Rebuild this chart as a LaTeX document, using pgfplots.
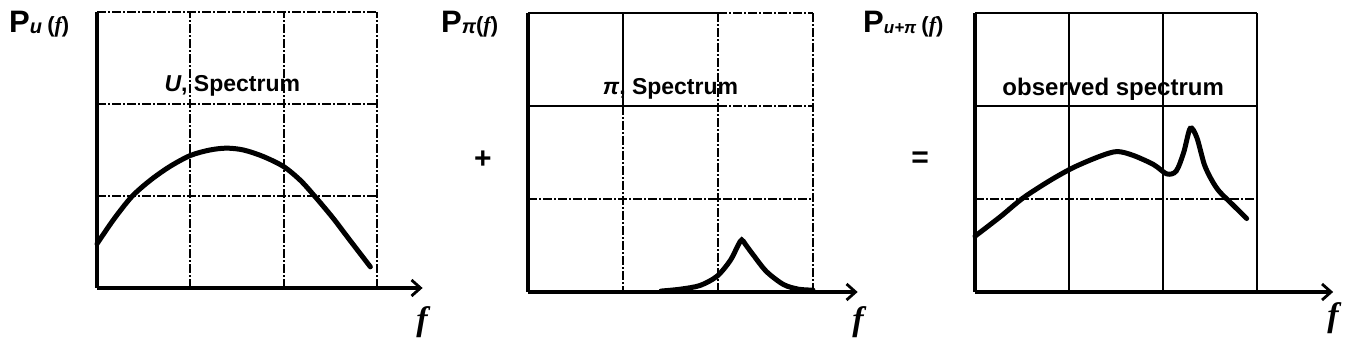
\documentclass[border=0pt]{standalone}
\usepackage{pgfplots}
\pgfplotsset{compat=1.18}
\usetikzlibrary{arrows.meta}
\usepackage{fontspec}
\setmainfont{Liberation Sans}
\newfontfamily\seriff{Liberation Serif}
\newcommand{\ff}{{\seriff\bfseries\itshape f}}
\begin{document}
\begin{tikzpicture}[x=1pt,y=1pt]
\useasboundingbox (0pt,0pt) rectangle (1347pt,348pt);
\tikzset{
  gridd/.style={line width=1.8pt, dash pattern=on 9pt off 2pt on 2pt off 2pt},
  grids/.style={line width=1.8pt},
}
\pgfplotsset{
  panel/.style={
    axis lines=left,
    axis line style={line width=3.5pt},
    y axis line style={-},
    x axis line style={-{Straight Barb[length=9pt,width=16pt,line width=2.8pt]}},
    xtick=\empty, ytick=\empty,
    xmin=0, ymin=0, ymax=3,
    clip=false,
    anchor=south west,
  },
  curve/.style={line width=5pt, smooth, tension=0.5, black, mark=none, line cap=round},
}
% ---------- panel 1 ----------
\begin{axis}[panel, at={(97pt,60pt)}, x=93.3pt, y=92pt, xmax=3.49]
  \draw[gridd] (axis cs:1,0) -- (axis cs:1,3);
  \draw[gridd] (axis cs:2,0) -- (axis cs:2,3);
  \draw[gridd] (axis cs:3,0) -- (axis cs:3,3);
  \draw[gridd] (axis cs:0,1) -- (axis cs:3,1);
  \draw[gridd] (axis cs:0,2) -- (axis cs:3,2);
  \draw[gridd] (axis cs:0,3) -- (axis cs:3,3);
  \addplot[curve] coordinates {
    (0.0,0.48) (0.175,0.74) (0.37,0.99) (0.57,1.17) (0.78,1.32) (1.0,1.44)
    (1.21,1.50) (1.39,1.52) (1.57,1.50) (1.78,1.43) (2.0,1.32) (2.18,1.17)
    (2.34,0.99) (2.53,0.76) (2.71,0.52) (2.93,0.23)
  };
  \node[font=\fontsize{23}{23}\selectfont\bfseries] at (axis cs:1.45,2.2) {\textit{U}, Spectrum};
\end{axis}
% ---------- panel 2 ----------
\begin{axis}[panel, at={(528pt,56pt)}, x=95pt, y=93pt, xmax=3.47]
  \draw[grids] (axis cs:0,3) -- (axis cs:2,3);
  \draw[gridd] (axis cs:2,3) -- (axis cs:3,3);
  \draw[grids] (axis cs:1,3) -- (axis cs:1,2);
  \draw[gridd] (axis cs:1,2) -- (axis cs:1,0);
  \draw[gridd] (axis cs:2,0) -- (axis cs:2,3);
  \draw[gridd] (axis cs:3,0) -- (axis cs:3,3);
  \draw[grids] (axis cs:0,2) -- (axis cs:2,2);
  \draw[gridd] (axis cs:2,2) -- (axis cs:3,2);
  \draw[gridd] (axis cs:0,1) -- (axis cs:3,1);
  \addplot[curve] coordinates {
    (1.4,0.01) (1.6,0.03) (1.81,0.07) (1.99,0.17) (2.13,0.34) (2.21,0.50)
    (2.25,0.56) (2.29,0.51) (2.37,0.40) (2.51,0.22) (2.69,0.08) (2.85,0.03) (3.0,0.02)
  };
  \node[font=\fontsize{23}{23}\selectfont\bfseries] at (axis cs:1.5,2.18) {\textit{π}, Spectrum};
\end{axis}
% ---------- panel 3 ----------
\begin{axis}[panel, at={(975pt,56pt)}, x=94pt, y=93pt, xmax=3.81]
  \draw[grids] (axis cs:1,0) -- (axis cs:1,3);
  \draw[grids] (axis cs:2,0) -- (axis cs:2,3);
  \draw[grids] (axis cs:3,0) -- (axis cs:3,3);
  \draw[gridd] (axis cs:0,1) -- (axis cs:3,1);
  \draw[grids] (axis cs:0,2) -- (axis cs:3,2);
  \draw[grids] (axis cs:0,3) -- (axis cs:3,3);
  \addplot[curve] coordinates {
    (0.0,0.60) (0.27,0.81) (0.51,1.01) (0.80,1.20) (1.05,1.34) (1.33,1.46)
    (1.51,1.51) (1.68,1.47) (1.90,1.37) (2.04,1.27) (2.14,1.30) (2.22,1.50)
    (2.29,1.76) (2.36,1.66) (2.44,1.37) (2.52,1.20) (2.60,1.08) (2.74,0.94) (2.89,0.79)
  };
  \node[font=\fontsize{24}{24}\selectfont\bfseries] at (axis cs:1.47,2.18) {observed spectrum};
\end{axis}
% ---------- labels ----------
\node[anchor=base west, inner sep=0] at (9pt,315pt)
  {\fontsize{31}{31}\selectfont\bfseries P\raisebox{-1pt}{\fontsize{20}{20}\selectfont\itshape u}\,\fontsize{22}{22}\selectfont(\ff)};
\node[anchor=base west, inner sep=0] at (441pt,315pt)
  {\fontsize{31}{31}\selectfont\bfseries P\raisebox{-1pt}{\fontsize{20}{20}\selectfont\itshape π}\fontsize{22}{22}\selectfont(\ff)};
\node[anchor=base west, inner sep=0] at (863pt,315pt)
  {\fontsize{31}{31}\selectfont\bfseries P\raisebox{-1pt}{\fontsize{17}{17}\selectfont\itshape u+π}\,\fontsize{22}{22}\selectfont(\ff)};
\node[font=\fontsize{30}{30}\selectfont\bfseries] at (483pt,188pt) {+};
\node[font=\fontsize{30}{30}\selectfont\bfseries] at (920pt,188pt) {=};
\node[font=\fontsize{34}{34}\selectfont] at (422pt,26pt) {\ff};
\node[font=\fontsize{34}{34}\selectfont] at (858pt,26pt) {\ff};
\node[font=\fontsize{34}{34}\selectfont] at (1333pt,30pt) {\ff};
\end{tikzpicture}
\end{document}
